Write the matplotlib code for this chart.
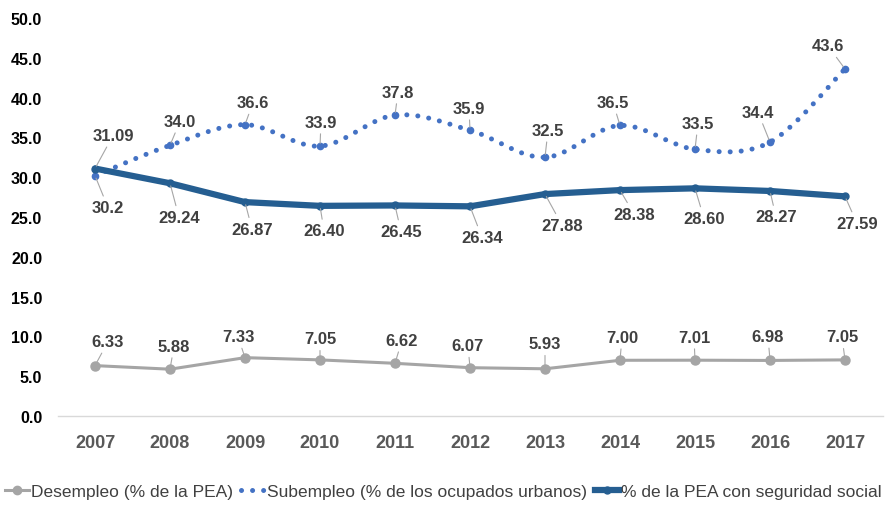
import matplotlib.pyplot as plt
from matplotlib.path import Path
from matplotlib.patches import PathPatch
from matplotlib.lines import Line2D

plt.rcParams['font.family'] = ['Liberation Sans', 'DejaVu Sans']

years = ['2007', '2008', '2009', '2010', '2011', '2012', '2013', '2014', '2015', '2016', '2017']
desempleo = [6.33, 5.88, 7.33, 7.05, 6.62, 6.07, 5.93, 7.00, 7.01, 6.98, 7.05]
subempleo = [30.2, 34.0, 36.6, 33.9, 37.8, 35.9, 32.5, 36.5, 33.5, 34.4, 43.6]
seguridad = [31.09, 29.24, 26.87, 26.40, 26.45, 26.34, 27.88, 28.38, 28.60, 28.27, 27.59]

des_labels = ['6.33', '5.88', '7.33', '7.05', '6.62', '6.07', '5.93', '7.00', '7.01', '6.98', '7.05']
sub_labels = ['30.2', '34.0', '36.6', '33.9', '37.8', '35.9', '32.5', '36.5', '33.5', '34.4', '43.6']
seg_labels = ['31.09', '29.24', '26.87', '26.40', '26.45', '26.34', '27.88', '28.38', '28.60', '28.27', '27.59']

# label offsets in pixels (dx, dy with y down like the picture)
des_off = [(13, -24), (4, -23), (-7, -21), (0, -21), (7, -23), (-2, -22),
           (0, -25), (2, -23), (-1, -23), (-2, -24), (-3, -23)]
sub_off = [(13, 32), (10, -24), (8, -22), (1, -24), (3, -23), (-1, -22),
           (3, -27), (-7, -23), (3, -26), (-12, -30), (-17, -23)]
seg_off = [(18, -33), (9, 34), (7, 27), (4, 25), (6, 26), (12, 31),
           (17, 31), (14, 24), (9, 30), (6, 26), (12, 27)]

gray = '#A5A5A5'
blue = '#4472C4'
dark = '#255E91'
txt = '#404040'

x = list(range(len(years)))

fig = plt.figure(figsize=(8.86, 5.06), dpi=100)
ax = fig.add_axes([57.5 / 886, 89 / 506, 825 / 886, 398 / 506])

# desempleo
ax.plot(x, desempleo, color=gray, lw=2.2, marker='o', ms=6.5, zorder=3)


# subempleo - smoothed dotted line
def smooth_path(xs, ys):
    verts = [(xs[0], ys[0])]
    codes = [Path.MOVETO]
    n = len(xs)
    for i in range(n - 1):
        j0 = i - 1 if i > 0 else i
        j3 = i + 2 if i + 2 < n else i + 1
        c1 = (xs[i] + (xs[i + 1] - xs[j0]) / 6, ys[i] + (ys[i + 1] - ys[j0]) / 6)
        c2 = (xs[i + 1] - (xs[j3] - xs[i]) / 6, ys[i + 1] - (ys[j3] - ys[i]) / 6)
        verts += [c1, c2, (xs[i + 1], ys[i + 1])]
        codes += [Path.CURVE4] * 3
    return Path(verts, codes)


patch = PathPatch(smooth_path(x, subempleo), fill=False, edgecolor=blue, lw=3.6,
                  linestyle=(0, (0.01, 2.2)), capstyle='round', zorder=3)
ax.add_patch(patch)
ax.plot(x, subempleo, ls='none', marker='o', ms=4.5, mfc=blue, mec=blue, zorder=3)

# seguridad social
ax.plot(x, seguridad, color=dark, lw=4.5, marker='o', ms=5, zorder=4, solid_capstyle='round')


def put_labels(vals, labels, offs):
    for i, v in enumerate(vals):
        dx, dy = offs[i]
        ax.annotate(labels[i], xy=(i, v), xytext=(dx, -dy), textcoords='offset pixels',
                    ha='center', va='center', fontsize=12, fontweight='bold', color=txt,
                    arrowprops=dict(arrowstyle='-', color='#A6A6A6', lw=0.8, shrinkA=1, shrinkB=2),
                    zorder=5)


put_labels(desempleo, des_labels, des_off)
put_labels(subempleo, sub_labels, sub_off)
put_labels(seguridad, seg_labels, seg_off)

ax.set_xlim(-0.5, len(years) - 0.5)
ax.set_ylim(0, 50)
ax.set_yticks([0, 5, 10, 15, 20, 25, 30, 35, 40, 45, 50])
ax.set_yticklabels(['%.1f' % t for t in ax.get_yticks()], fontsize=11.5, fontweight='bold', color='black')
ax.set_xticks(x)
ax.set_xticklabels(years, fontsize=13, fontweight='bold', color='#595959')
ax.tick_params(axis='both', length=0)
ax.tick_params(axis='x', pad=13)
ax.tick_params(axis='y', pad=11)
for s in ['top', 'right', 'left']:
    ax.spines[s].set_visible(False)
ax.spines['bottom'].set_color('#D9D9D9')
ax.spines['bottom'].set_linewidth(1)

handles = [
    Line2D([], [], color=gray, lw=2.2, marker='o', ms=6),
    Line2D([], [], color=blue, lw=3.6, ls=(0, (0.01, 2.2)), dash_capstyle='round'),
    Line2D([], [], color=dark, lw=4.5, marker='o', ms=5),
]
names = ['Desempleo (% de la PEA)', 'Subempleo (% de los ocupados urbanos)', '% de la PEA con seguridad social']
leg = fig.legend(handles, names, loc='lower center', bbox_to_anchor=(0.5, -0.02), ncol=3, frameon=False,
                 fontsize=12.5, handlelength=1.4, handletextpad=0.1, columnspacing=0.45)
for t in leg.get_texts():
    t.set_color(txt)

fig.savefig('out.png', dpi=100)
